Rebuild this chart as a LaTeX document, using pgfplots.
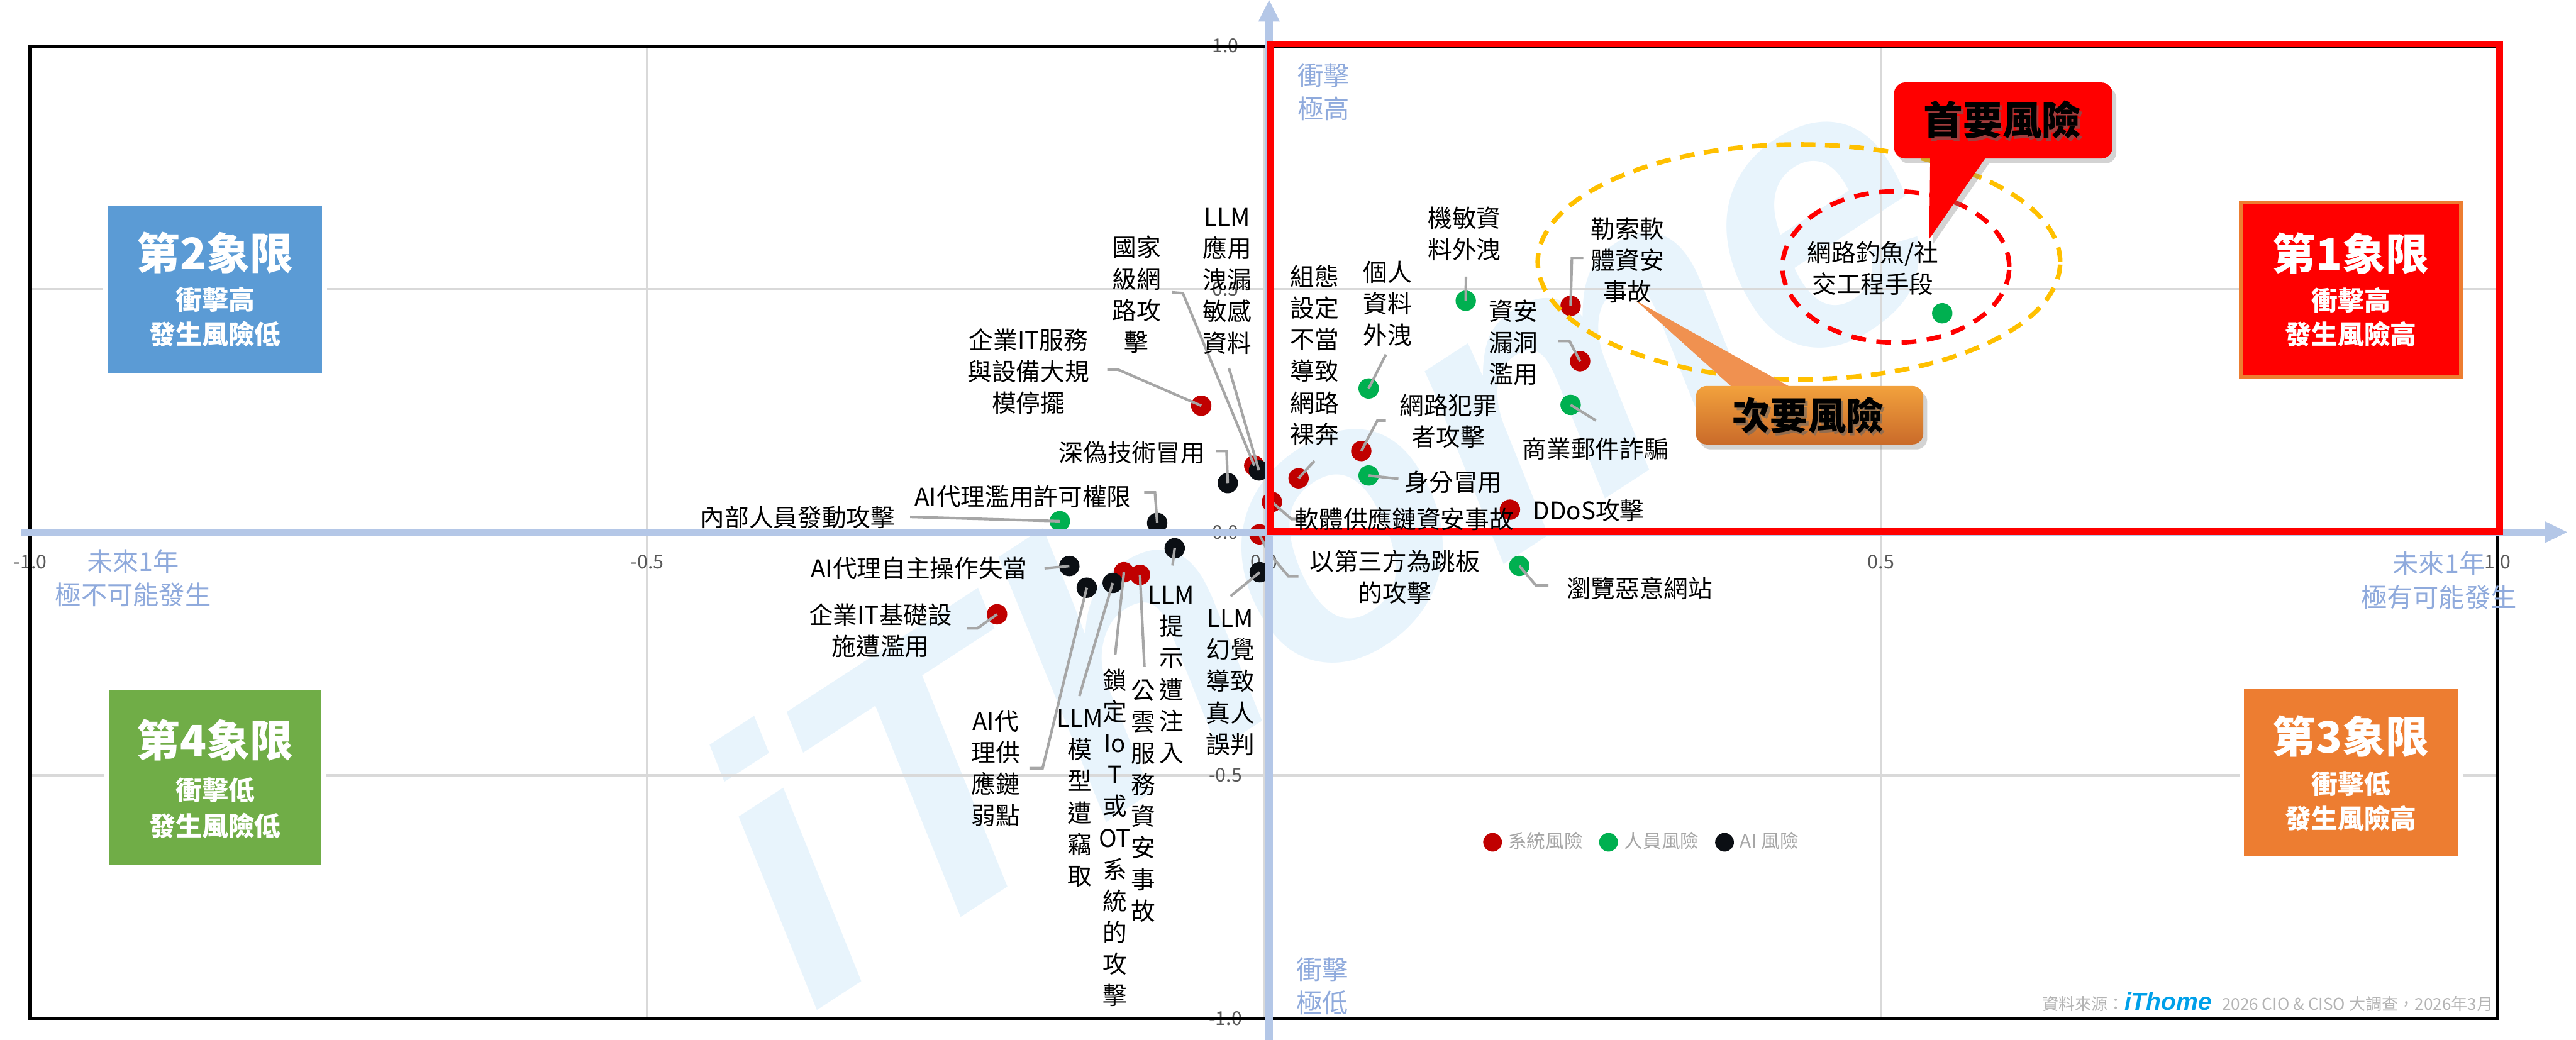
\documentclass[border=0pt]{standalone}
\usepackage{fontspec}
\setmainfont{Noto Sans CJK TC}
\newfontfamily\lib{Liberation Sans}
\usepackage{pgfplots}
\pgfplotsset{compat=1.18}
\usepackage{pgfplotstable}
\usetikzlibrary{shadows}

\definecolor{ptred}{HTML}{C00000}
\definecolor{ptgreen}{HTML}{00B050}
\definecolor{ptblack}{HTML}{0B0F14}
\definecolor{gridgray}{HTML}{D9D9D9}
\definecolor{tickgray}{HTML}{595959}
\definecolor{legendgray}{HTML}{A6A6A6}
\definecolor{leader}{HTML}{A6A6A6}
\definecolor{axblue}{HTML}{B4C7E7}
\definecolor{axtext}{HTML}{8FAADC}
\definecolor{qblue}{HTML}{5B9BD5}
\definecolor{qgreen}{HTML}{70AD47}
\definecolor{qorange}{HTML}{ED7D31}
\definecolor{qred}{HTML}{FF0000}
\definecolor{gold}{HTML}{FFC000}
\definecolor{srcgray}{HTML}{B4B4B4}
\definecolor{ithome}{HTML}{00A0E9}
\definecolor{wm}{RGB}{232,244,252}

% 系統風險
\pgfplotstableread{
x y
-0.0509 0.2601
-0.0079 0.1368
0.0280 0.1108
0.2485 0.4655
0.2562 0.3517
0.0788 0.1669
0.1993 0.0463
0.0064 0.0622
-0.0037 -0.0044
-0.1136 -0.0824
-0.1005 -0.0878
-0.2164 -0.1689
}\sysdata
% 人員風險
\pgfplotstableread{
x y
0.0848 0.2956
0.1635 0.4760
0.2485 0.2618
0.0848 0.1166
-0.1655 0.0226
0.2069 -0.0693
0.5497 0.4503
}\peopledata
% AI 風險
\pgfplotstableread{
x y
-0.0041 0.1270
-0.0294 0.1010
-0.0866 0.0189
-0.0724 -0.0331
-0.0035 -0.0824
-0.1578 -0.0696
-0.1437 -0.1142
-0.1226 -0.1044
}\aidata

\tikzset{
  lab/.style={align=center, font=\fontsize{7.4}{9.6}\selectfont, inner sep=0pt},
  ld/.style={draw=leader, line width=0.8pt},
  qt/.style={text=white, font=\bfseries\fontsize{13.2}{14}\selectfont, inner sep=0pt},
  qs/.style={text=white, font=\bfseries\fontsize{8}{9}\selectfont, inner sep=0pt},
  axl/.style={text=axtext, align=center, font=\fontsize{7.9}{10.2}\selectfont, inner sep=0pt},
}

\begin{document}
\begin{tikzpicture}
% watermark behind the chart (axis sits with its lower left corner at the origin)
\begin{scope}[xshift=-9.2pt, yshift=310pt, x=0.5pt, y=-0.5pt]
\node[text=wm, rotate=33, font=\lib\bfseries\itshape\fontsize{118}{118}\selectfont, inner sep=0pt]
  at (800,318) {iThome};
\end{scope}

\begin{axis}[
  name=ax,
  scale only axis, width=751pt, height=296pt,
  xmin=-1, xmax=1, ymin=-1, ymax=1,
  axis lines=middle,
  axis line style={draw=none},
  xtick={-1,-0.5,0,0.5,1}, ytick={-1,-0.5,0,0.5,1},
  xticklabels={-1.0,-0.5,0.0,0.5,1.0},
  yticklabels={-1.0,-0.5,0.0,0.5,1.0},
  major tick length=0pt,
  hide obscured x ticks=false, hide obscured y ticks=false,
  grid=major,
  grid style={draw=gridgray, line width=0.75pt},
  tick label style={font=\fontsize{5.8}{7}\selectfont, text=tickgray},
  xticklabel style={anchor=center, yshift=-9pt},
  yticklabel style={anchor=center, xshift=-11.7pt},
  clip=false,
  legend columns=3,
  legend style={at={(axis cs:0.1771,-0.6378)}, anchor=west, draw=none, fill=none,
    inner sep=0pt, font=\fontsize{5.7}{6.8}\selectfont, text=legendgray,
    nodes={inner sep=0.4pt},
    /tikz/every odd column/.append style={column sep=1.5pt},
    /tikz/every even column/.append style={column sep=4.5pt}},
  legend image code/.code={\fill[#1] (0pt,0pt) circle (2.65pt);},
]
\addplot[only marks, mark=*, mark size=2.9pt, color=ptred] table {\sysdata};
\addlegendentry{系統風險}
\addplot[only marks, mark=*, mark size=2.9pt, color=ptgreen] table {\peopledata};
\addlegendentry{人員風險}
\addplot[only marks, mark=*, mark size=2.9pt, color=ptblack] table {\aidata};
\addlegendentry{AI 風險}
\end{axis}

\begin{scope}[shift={(ax.south west)}, xshift=-9.2pt, yshift=310pt, x=0.5pt, y=-0.5pt]
% frame
\draw[black, line width=1pt] (18.4,28) rectangle (1520.4,620);

% leader lines
\draw[ld] (713.4,178) -- (720,178.5) -- (763.5,283.5);
\draw[ld] (748,224) -- (766.3,286.4);
\draw[ld] (674,225) -- (680.5,225) -- (731.2,247);
\draw[ld] (740,274.6) -- (746.6,274.6) -- (747.3,294.1);
\draw[ld] (696.5,299.8) -- (703,299.8) -- (704.4,318.4);
\draw[ld] (554,314.7) -- (645.1,317.3);
\draw[ld] (635.8,346) -- (650.9,344.6);
\draw[ld] (588.5,382.5) -- (595,382.5) -- (606.9,374);
\draw[ld] (626.6,467.7) -- (634.6,467.7) -- (661.5,357.8);
\draw[ld] (657,423.8) -- (677.3,354.9);
\draw[ld] (678.8,398.7) -- (684.1,348.4);
\draw[ld] (696.6,406) -- (693.9,350);
\draw[ld] (713.7,344.3) -- (715,333.8);
\draw[ld] (749,363) -- (766.8,348.4);
\draw[ld] (790.4,350.9) -- (784.3,350.9) -- (772,336.3) -- (766.6,325.3);
\draw[ld] (942.5,356.4) -- (934.9,356.4) -- (924.8,344.5);
\draw[ld] (793.8,316) -- (786,316) -- (774.2,305.6);
\draw[ld] (851.2,291.5) -- (833.1,289.5);
\draw[ld] (843.6,256) -- (838.4,256) -- (828.6,274.6);
\draw[ld] (800.1,280.6) -- (790.4,291.2);
\draw[ld] (843.6,215.8) -- (833.1,236.5);
\draw[ld] (892.3,168.4) -- (892.2,183.1);
\draw[ld] (963.8,157) -- (956.8,157) -- (956,186.2);
\draw[ld] (948.6,207.6) -- (955.3,207.6) -- (961.8,219.9);
\draw[ld] (971.4,256) -- (956,246.5);

% blue axes with arrows
\draw[axblue, line width=2.2pt] (12.9,324) -- (1550,324);
\fill[axblue] (1549,317.3) -- (1562.6,324) -- (1549,330.7) -- cycle;
\draw[axblue, line width=2.2pt] (772.5,633) -- (772.5,12);
\fill[axblue] (765.9,13.2) -- (772.5,0) -- (779.1,13.2) -- cycle;

% first quadrant highlight
\draw[qred, line width=2pt] (773.5,26.7) rectangle (1521.5,323.6);

% dashed ellipses
\draw[gold, line width=1.4pt, dash pattern=on 4.5pt off 2.9pt] (1095,159.5) ellipse [x radius=79.5pt, y radius=35.75pt];
\draw[qred, line width=1.4pt, dash pattern=on 4.5pt off 3.2pt] (1154,162.5) ellipse [x radius=34.5pt, y radius=23pt];

% callouts
\fill[qred, drop shadow={shadow xshift=1.2pt, shadow yshift=-1.5pt, opacity=0.35}]
  (1174.9,96.5) -- (1174.3,145.5) -- (1208.3,96.5) [rounded corners=3.35pt] -- (1285.8,96.5)
  -- (1285.8,50.2) -- (1152.9,50.2) -- (1152.9,96.5) [sharp corners] -- cycle;
\node[text=black!60, opacity=0.6, font=\bfseries\fontsize{12}{12}\selectfont] at (1220.2,74.6) {首要風險};
\node[font=\bfseries\fontsize{12}{12}\selectfont] at (1218.9,73) {首要風險};

\fill[qorange!85!white] (1053.5,235) -- (995.7,183) -- (1088.6,235) -- cycle;
\shade[top color=qorange!80!yellow!90!white, bottom color=qorange!85!black, rounded corners=3.35pt,
  drop shadow={shadow xshift=1.2pt, shadow yshift=-1.5pt, opacity=0.35}]
  (1032.2,235) rectangle (1170.7,270.6);
\node[text=black!60, opacity=0.6, font=\bfseries\fontsize{11.5}{12}\selectfont] at (1101.9,254.2) {次要風險};
\node[font=\bfseries\fontsize{11.5}{12}\selectfont] at (1100.6,252.7) {次要風險};

% quadrant boxes
\fill[white] (62.9,122.2) rectangle (198.9,230.1);
\fill[qblue] (65.9,125.2) rectangle (195.9,227.1);
\node[qt] at (131,154) {第2象限};
\node[qs] at (131,182.5) {衝擊高};
\node[qs] at (131,203.5) {發生風險低};

\fill[qred, draw=qorange, line width=1.1pt] (1364,123.3) rectangle (1498,229.2);
\node[qt] at (1431,154.5) {第1象限};
\node[qs] at (1431,182.9) {衝擊高};
\node[qs] at (1431,203.6) {發生風險高};

\fill[white] (63.1,417.4) rectangle (198.8,529.9);
\fill[qgreen] (66.1,420.4) rectangle (195.8,526.9);
\node[qt] at (131,450.6) {第4象限};
\node[qs] at (131,481) {衝擊低};
\node[qs] at (131,502.7) {發生風險低};

\fill[white] (1363,416) rectangle (1499,524);
\fill[qorange] (1366,419) rectangle (1496,521);
\node[qt] at (1431,448.3) {第3象限};
\node[qs] at (1431,477.1) {衝擊低};
\node[qs] at (1431,498.2) {發生風險高};

% axis titles
\node[axl] at (805.6,56) {衝擊\\極高};
\node[axl] at (805,600.5) {衝擊\\極低};
\node[axl] at (81,352) {未來1年\\極不可能發生};
\node[axl] at (1484.5,353.3) {未來1年\\極有可能發生};

% risk labels
\node[lab] at (691.8,179.3) {國家\\級網\\路攻\\擊};
\node[lab] at (747,171.2) {LLM\\應用\\洩漏\\敏感\\資料};
\node[lab] at (626,226.2) {企業IT服務\\與設備大規\\模停擺};
\node[lab] at (689,275.4) {深偽技術冒用};
\node[lab] at (622.6,302.2) {AI代理濫用許可權限};
\node[lab] at (485.6,315) {內部人員發動攻擊};
\node[lab] at (559.4,346) {AI代理自主操作失當};
\node[lab] at (536,383.7) {企業IT基礎設\\施遭濫用};
\node[lab] at (606,467.9) {AI代\\理供\\應鏈\\弱點};
\node[lab] at (657.3,485.9) {LLM\\模\\型\\遭\\竊\\取};
\node[lab] at (678.6,510) {鎖\\定\\Io\\T\\或\\OT\\系\\統\\的\\攻\\擊};
\node[lab] at (696,487.5) {公\\雲\\服\\務\\資\\安\\事\\故};
\node[lab] at (713,410.9) {LLM\\提\\示\\遭\\注\\入};
\node[lab] at (748.8,415.5) {LLM\\幻覺\\導致\\真人\\誤判};
\node[lab] at (849,351.3) {以第三方為跳板\\的攻擊};
\node[lab] at (998,358.2) {瀏覽惡意網站};
\node[lab] at (967,310.6) {DDoS攻擊};
\node[lab] at (854.7,315.9) {軟體供應鏈資安事故};
\node[lab] at (884.7,293.5) {身分冒用};
\node[lab] at (881.6,256.5) {網路犯罪\\者攻擊};
\node[lab] at (800.1,216.3) {組態\\設定\\不當\\導致\\網路\\裸奔};
\node[lab] at (844.5,184.8) {個人\\資料\\外洩};
\node[lab] at (891.4,142.4) {機敏資\\料外洩};
\node[lab] at (990.6,158.4) {勒索軟\\體資安\\事故};
\node[lab] at (921.2,208.5) {資安\\漏洞\\濫用};
\node[lab] at (971.1,273.3) {商業郵件詐騙};
\node[lab] at (1140,163.4) {網路釣魚/社\\交工程手段};

% source
\node[anchor=east, inner sep=0pt, text=srcgray, font=\fontsize{5}{6}\selectfont] at (1518,610)
  {資料來源：{\lib\bfseries\itshape\fontsize{7.5}{8}\selectfont\color{ithome}iThome}\hspace{3pt}2026 CIO \& CISO 大調查，2026年3月};

\pgfresetboundingbox
\path (0,0) rectangle (1568,633);
\end{scope}
\end{tikzpicture}
\end{document}
